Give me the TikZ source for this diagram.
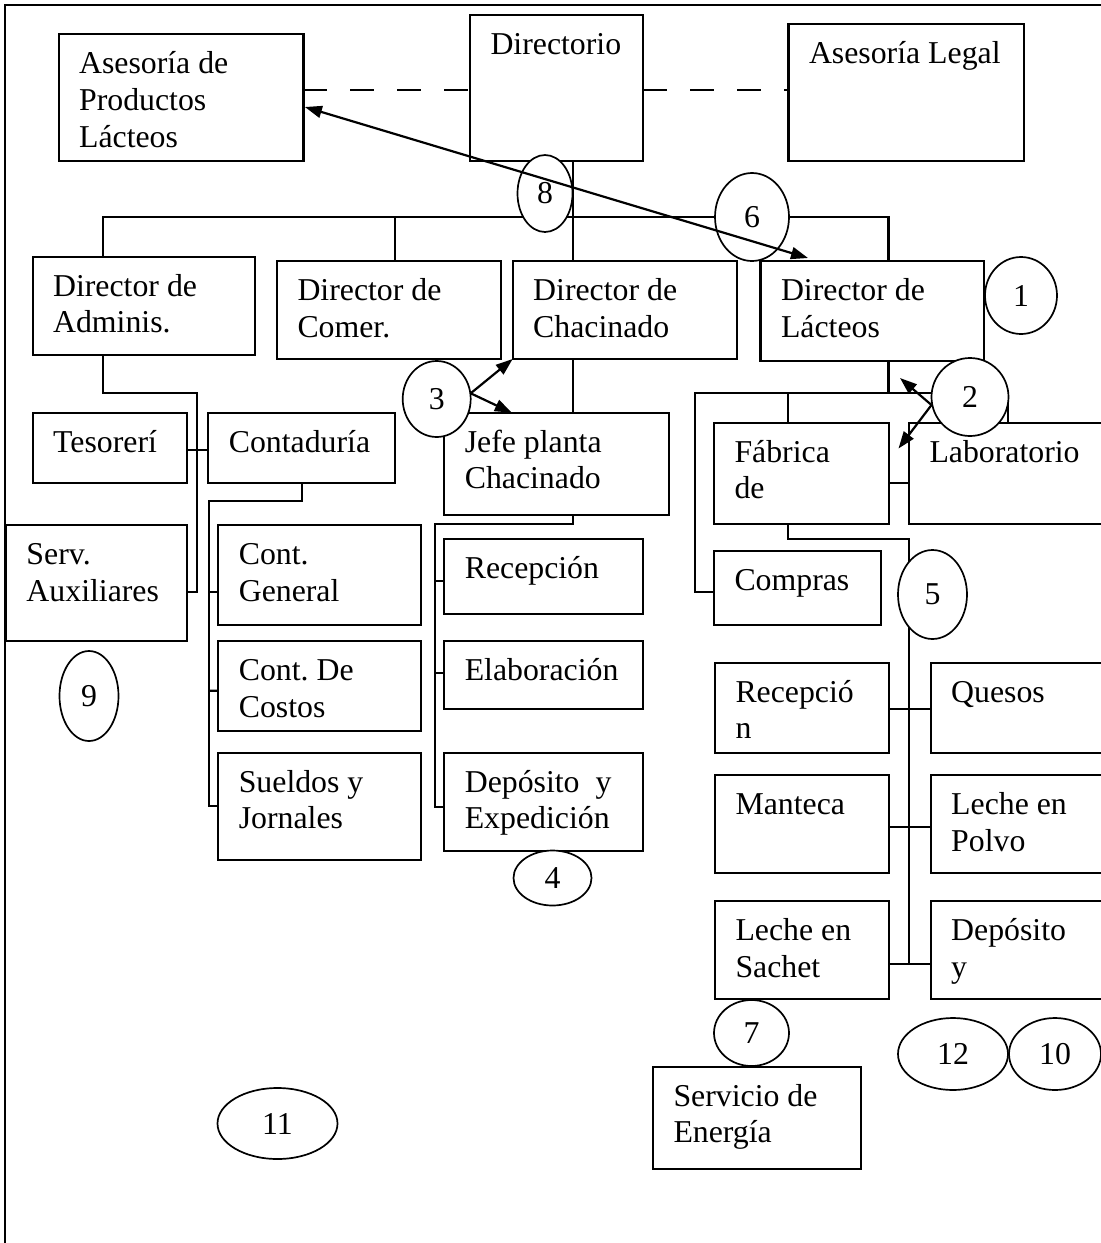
\documentclass[tikz,border=0pt]{standalone}
\usepackage{fontspec}
\setmainfont{Liberation Serif}
\usetikzlibrary{arrows.meta,shapes.geometric,fit}
\frenchspacing

\tikzset{
  obox/.style={draw, rectangle, line width=2.2pt, inner sep=0pt, outer sep=0pt},
  otext/.style={anchor=base west, inner sep=0pt, outer sep=0pt, font=\fontsize{31.8}{36.6}\selectfont},
  oel/.style={draw, ellipse, line width=1.7pt, fill=white, inner sep=0pt, outer sep=0pt,
              font=\fontsize{31.8}{36.6}\selectfont},
  conn/.style={line width=2.2pt},
  linkdash/.style={line width=2.2pt, dash pattern=on 23.5pt off 23.5pt},
  arr/.style={line width=2.2pt, >={Triangle[length=17pt,width=12pt]}},
  frame/.style={line width=2pt},
}

% box given by its corners, with its text set from the upper left corner
\newcommand{\orgbox}[6]{%
  \node[obox, fit={(#2,#3)(#4,#5)}] (#1) {};
  \node[otext] (#1-t) at ([shift={(20.5,39.5)}]#1.north west)
    {\begin{tabular}[t]{@{}l@{}}#6\end{tabular}};
}
% numbered ellipse: name, centre x, centre y, width, height, number
\newcommand{\numoval}[6]{%
  \node[oel, minimum width=#4pt, minimum height=#5pt] (#1) at (#2,#3) {#6};
}

\begin{document}
\begin{tikzpicture}[x=1pt,y=-1pt]
\useasboundingbox (0,0) rectangle (1101,1243);
\clip (0,0) rectangle (1101,1243);

% page frame
\draw[frame] (5,1250) -- (5,5) -- (1110,5);

% top level
\orgbox{apl}{58.6}{34.3}{303.4}{160.7}{Asesoría de\\Productos\\Lácteos}
\orgbox{dir}{470}{15}{643}{160.7}{Directorio}
\orgbox{leg}{788.5}{24.3}{1024}{160.7}{Asesoría Legal}

% directors
\orgbox{adm}{32.6}{256.7}{255}{355}{Director de\\Adminis.}
\orgbox{com}{277}{261}{501}{359}{Director de\\Comer.}
\orgbox{chac}{512.7}{261}{736.7}{359}{Director de\\Chacinado}
\orgbox{lac}{760.5}{261}{984}{360.7}{Director de\\Lácteos}

% administration
\orgbox{tes}{32.7}{412.7}{187.3}{482.7}{Tesorerí}
\orgbox{cont}{208.3}{412.7}{395}{482.7}{Contaduría}
\orgbox{serv}{6}{525}{187.3}{640.7}{Serv.\\Auxiliares}
\orgbox{cgen}{218.3}{525}{420.7}{625}{Cont.\\General}
\orgbox{ccos}{218.3}{641}{420.7}{730.7}{Cont. De\\Costos}
\orgbox{suel}{218.3}{752.7}{420.7}{860}{Sueldos y\\Jornales}

% chacinado
\orgbox{jefe}{444.3}{412.7}{669}{515}{Jefe planta\\Chacinado}
\orgbox{rec}{444.3}{539.3}{643.3}{614.3}{Recepción}
\orgbox{ela}{444.3}{641}{643.3}{709}{Elaboración}
\orgbox{dep}{444.3}{752.7}{643.3}{850.7}{Depósito\ \ y\\Expedición}

% lacteos
\orgbox{fab}{714}{422.7}{889}{524}{Fábrica\\de}
\orgbox{lab}{909}{422.7}{1110}{524}{Laboratorio}
\orgbox{comp}{714}{551}{881}{625}{Compras}
\orgbox{recl}{715}{662.7}{889}{752.7}{Recepció\\n}
\orgbox{ques}{930.7}{662.7}{1110}{752.7}{Quesos}
\orgbox{mant}{715}{775}{889}{872.7}{Manteca}
\orgbox{lpol}{930.7}{775}{1110}{872.7}{Leche en\\Polvo}
\orgbox{lsac}{715}{901}{889}{999}{Leche en\\Sachet}
\orgbox{depy}{930.7}{901}{1110}{999}{Depósito\\y}
\orgbox{se}{653}{1066.7}{861}{1169}{Servicio de\\Energía}

% staff links
\coordinate (yDash) at (0,90.3);
\draw[linkdash] (apl.east |- yDash) -- (dir.west |- yDash);
\draw[linkdash] (dir.east |- yDash) -- (leg.west |- yDash);

% main bus
\coordinate (bA) at (103,217);
\coordinate (bC) at (394.6,217);
\coordinate (bD) at (573,217);
\coordinate (bL) at (888.5,217);
\draw[conn] (adm.north -| bA) -- (bA) -- (bL) -- (lac.north -| bL);
\draw[conn] (dir.south -| bD) -- (chac.north -| bD);
\draw[conn] (bC) -- (com.north -| bC);

% administration links
\coordinate (aS) at (196.7,392.7);
\draw[conn] (adm.south -| bA) |- (aS) |- ([shift={(0,9.3)}]serv.east);
\draw[conn] ([shift={(0,2.3)}]tes.east) -- ([shift={(0,2.3)}]cont.west);
\coordinate (cB) at (209,500.7);
\draw[conn] (cont.south) |- (cB) |- (suel.west);
\draw[conn] (cB |- 0,592) -- ([shift={(0,17)}]cgen.west);
\draw[conn] (cB |- 0,690.7) -- ([shift={(0,4.8)}]ccos.west);

% chacinado links
\draw[conn] (chac.south -| bD) -- (jefe.north -| bD);
\coordinate (jB) at (435,524.3);
\draw[conn] (jefe.south -| bD) |- (jB) |- ([shift={(0,5)}]dep.west);
\draw[conn] (jB |- 0,580.7) -- ([shift={(0,3.9)}]rec.west);
\draw[conn] (jB |- 0,672.7) -- ([shift={(0,-2.3)}]ela.west);

% lacteos links
\coordinate (lB) at (888.5,393);
\coordinate (lF) at (788,393);
\coordinate (lLab) at (1008,393);
\coordinate (lCmp) at (695,393);
\draw[conn] (lac.south -| lB) -- (lB);
\draw[conn] ([shift={(0,4)}]comp.west) -| (lCmp) -- (lLab) -- (lab.north -| lLab);
\draw[conn] (lF) -- (fab.north -| lF);
\draw[conn] ([shift={(0,9.3)}]fab.east) -- ([shift={(0,9.3)}]lab.west);
\coordinate (fS) at (909,539);
\coordinate (fEnd) at (909,964);
\draw[conn] (fab.south -| lF) |- (fS) -- (fEnd);
\draw[conn] ([shift={(0,1.3)}]recl.east) -- ([shift={(0,1.3)}]ques.west);
\draw[conn] ([shift={(0,2.9)}]mant.east) -- ([shift={(0,2.9)}]lpol.west);
\draw[conn] ([shift={(0,14)}]lsac.east) -- ([shift={(0,14)}]depy.west);

% numbered ellipses
\numoval{e8}{545}{193.5}{55}{77}{8}
\numoval{e6}{752}{217}{74}{88}{6}
\numoval{e1}{1021}{295.5}{72}{77}{1}
\numoval{e2}{970}{397}{77}{78}{2}
\numoval{e3}{436.7}{399}{68}{76}{3}
\numoval{e5}{932.5}{594.5}{69}{89}{5}
\numoval{e9}{89}{696}{59}{90}{9}
\numoval{e4}{552.5}{878}{78}{55}{4}
\numoval{e7}{751.5}{1033}{75}{66}{7}
\numoval{e12}{953}{1054}{110}{72}{12}
\numoval{e10}{1055}{1054}{92}{72}{10}
\numoval{e11}{277.5}{1123.5}{120}{71}{11}

% arrows
\draw[arr, <->] ([shift={(1.5,9.5)}]apl.east) -- ([shift={(47.5,-3)}]lac.north west);
\draw[arr, ->] ([shift={(0,-5.7)}]e3.east) -- (chac.south west);
\draw[arr, ->] ([shift={(0,-5.7)}]e3.east) -- ([shift={(67.5,0)}]jefe.north west);
\coordinate (p2a) at (900,378);
\coordinate (p2b) at (898.5,448.5);
\draw[arr, ->] ([shift={(0,8)}]e2.west) -- (p2a);
\draw[arr, ->] ([shift={(0,8)}]e2.west) -- (p2b);
\end{tikzpicture}
\end{document}
